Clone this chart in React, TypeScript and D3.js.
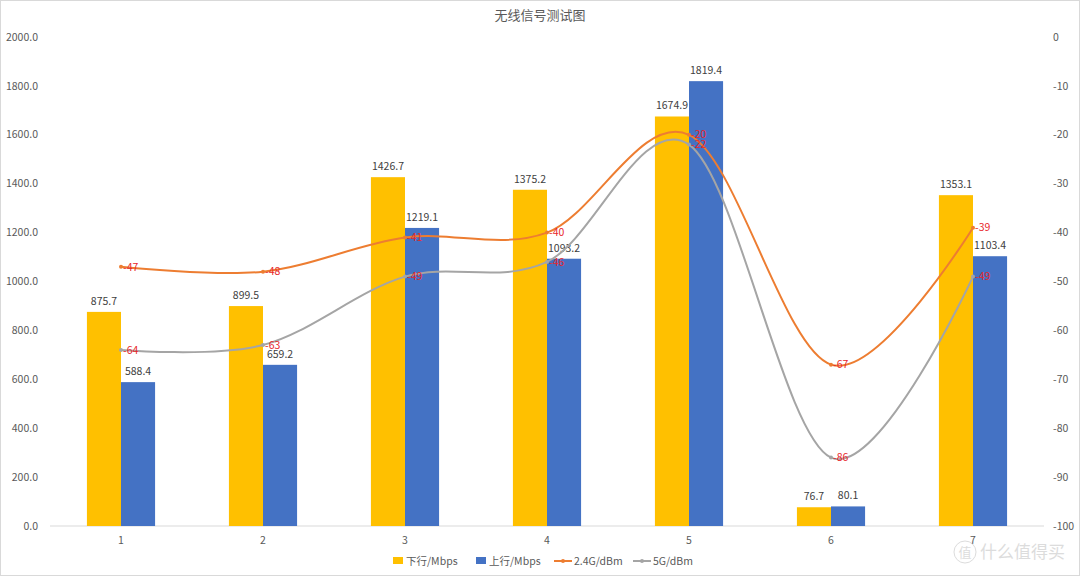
import React from "react";
import * as d3 from "d3";

const categories = ["1", "2", "3", "4", "5", "6", "7"];
const downMbps = [875.7, 899.5, 1426.7, 1375.2, 1674.9, 76.7, 1353.1];
const upMbps = [588.4, 659.2, 1219.1, 1093.2, 1819.4, 80.1, 1103.4];
const g24 = [-47, -48, -41, -40, -20, -67, -39];
const g5 = [-64, -63, -49, -46, -22, -86, -49];
const leftTicks = [0, 200, 400, 600, 800, 1000, 1200, 1400, 1600, 1800, 2000];
const rightTicks = [0, -10, -20, -30, -40, -50, -60, -70, -80, -90, -100];
const title = "无线信号测试图";
const seriesNames = ["下行/Mbps", "上行/Mbps", "2.4G/dBm", "5G/dBm"];

const W = 1080;
const H = 576;
const FONT = "'Noto Sans CJK SC', 'Noto Sans', sans-serif";
const C_DOWN = "#FFC000";
const C_UP = "#4472C4";
const C_24 = "#ED7D31";
const C_5 = "#A5A5A5";

export default function App() {
  const x = d3.scaleBand<string>().domain(categories).range([50, 1044]).paddingInner(0.52).paddingOuter(0.26);
  const inner = d3.scaleBand<string>().domain(["d", "u"]).range([0, x.bandwidth()]);
  const yL = d3.scaleLinear().domain([0, 2000]).range([526, 37]);
  const yR = d3.scaleLinear().domain([-100, 0]).range([526, 37]);
  const cx = (c: string) => (x(c) as number) + x.bandwidth() / 2;

  const line = (vals: number[]) =>
    d3
      .line<number>()
      .x((_, i) => cx(categories[i]))
      .y((v) => yR(v))
      .curve(d3.curveCardinal.tension(0))(vals) as string;

  const lines = [
    { vals: g24, color: C_24 },
    { vals: g5, color: C_5 },
  ];

  return (
    <svg width={W} height={H} style={{ position: "absolute", left: 0, top: 0, background: "#fff" }} fontFamily={FONT}>
      <rect x={0.5} y={0.5} width={W - 1} height={H - 1} fill="#fff" stroke="#d9d9d9" />
      <text x={540} y={20} textAnchor="middle" fontSize={13} fill="#595959">{title}</text>

      {leftTicks.map((t) => (
        <text key={"l" + t} x={38} y={yL(t)} dy="0.35em" textAnchor="end" fontSize={10.5} fill="#595959">
          {t.toFixed(1)}
        </text>
      ))}
      {rightTicks.map((t) => (
        <text key={"r" + t} x={1053} y={yR(t)} dy="0.35em" textAnchor="start" fontSize={10.5} fill="#595959">
          {t}
        </text>
      ))}

      <line x1={50} x2={1044} y1={yL(0)} y2={yL(0)} stroke="#d9d9d9" />
      {categories.map((c) => (
        <text key={"c" + c} x={cx(c)} y={544} textAnchor="middle" fontSize={10.5} fill="#595959">{c}</text>
      ))}

      {categories.map((c, i) => {
        const x0 = x(c) as number;
        const xd = x0 + (inner("d") as number);
        const xu = x0 + (inner("u") as number);
        const bw = inner.bandwidth();
        return (
          <g key={"b" + c}>
            <rect x={xd} y={yL(downMbps[i])} width={bw} height={yL(0) - yL(downMbps[i])} fill={C_DOWN} />
            <rect x={xu} y={yL(upMbps[i])} width={bw} height={yL(0) - yL(upMbps[i])} fill={C_UP} />
            <text x={xd + bw / 2} y={yL(downMbps[i]) - 7} textAnchor="middle" fontSize={10.5} fill="#404040">
              {downMbps[i].toFixed(1)}
            </text>
            <text x={xu + bw / 2} y={yL(upMbps[i]) - 7} textAnchor="middle" fontSize={10.5} fill="#404040">
              {upMbps[i].toFixed(1)}
            </text>
          </g>
        );
      })}

      {lines.map((l, k) => (
        <g key={"ln" + k}>
          <path d={line(l.vals)} fill="none" stroke={l.color} strokeWidth={2} />
          {l.vals.map((v, i) => (
            <circle key={i} cx={cx(categories[i])} cy={yR(v)} r={2} fill={l.color} />
          ))}
        </g>
      ))}
      {lines.map((l, k) =>
        l.vals.map((v, i) => (
          <text key={"lt" + k + i} x={cx(categories[i]) + 2} y={yR(v)} dy="0.35em" fontSize={10.5} fill="#E8262B">
            {v}
          </text>
        ))
      )}

      <g fontSize={10.5} fill="#595959">
        <rect x={393} y={557} width={10} height={7} fill={C_DOWN} />
        <text x={406} y={561} dy="0.35em">{seriesNames[0]}</text>
        <rect x={476} y={557} width={10} height={7} fill={C_UP} />
        <text x={489} y={561} dy="0.35em">{seriesNames[1]}</text>
        <line x1={554} x2={572} y1={561} y2={561} stroke={C_24} strokeWidth={2} />
        <circle cx={563} cy={561} r={2} fill={C_24} />
        <text x={574} y={561} dy="0.35em">{seriesNames[2]}</text>
        <line x1={633} x2={651} y1={561} y2={561} stroke={C_5} strokeWidth={2} />
        <circle cx={642} cy={561} r={2} fill={C_5} />
        <text x={653} y={561} dy="0.35em">{seriesNames[3]}</text>
      </g>

      <g opacity={0.5}>
        <circle cx={965} cy={552} r={11} fill="none" stroke="#bbb" strokeWidth={1} />
        <text x={965} y={552} dy="0.35em" textAnchor="middle" fontSize={13} fill="#bbb">值</text>
        <text x={980} y={552} dy="0.35em" fontSize={17} fill="#bbb">什么值得买</text>
      </g>
    </svg>
  );
}
